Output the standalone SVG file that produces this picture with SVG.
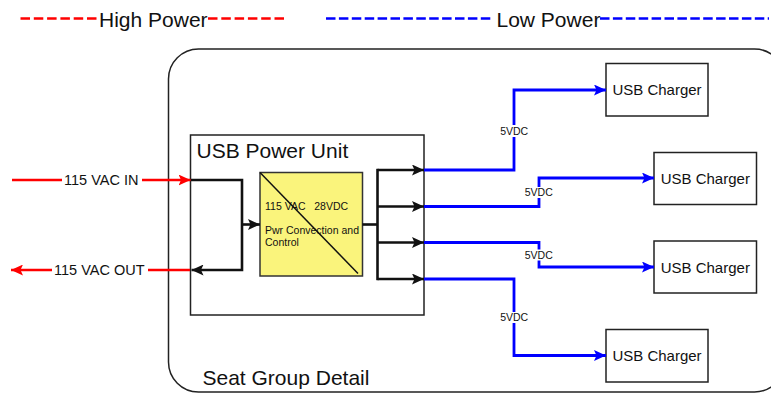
<svg xmlns="http://www.w3.org/2000/svg" width="771" height="394" viewBox="0 0 771 394">
<style>
text{font-family:"Liberation Sans",Arial,sans-serif;fill:#111}
.box{fill:#fff;stroke:#222;stroke-width:1.5}
.blk{fill:none;stroke:#111;stroke-width:2.6}
.red{fill:none;stroke:#f00;stroke-width:2.6}
.blu{fill:none;stroke:#00f;stroke-width:2.8}
.dr{stroke:#f00;stroke-width:2.6;stroke-dasharray:9.5 3.8}
.db{stroke:#00f;stroke-width:2.6;stroke-dasharray:9.5 3.4}
.lbl{font-size:14.5px}
.v5{font-size:10.5px;text-anchor:middle}
.chg{font-size:15px;text-anchor:middle}
</style>
<defs>
<marker id="ab" markerUnits="userSpaceOnUse" markerWidth="12" markerHeight="11" refX="12" refY="5.5" orient="auto"><path d="M0,0 L12,5.5 L0,11 L2.5,5.5 z" fill="#111"/></marker>
<marker id="ar" markerUnits="userSpaceOnUse" markerWidth="12" markerHeight="11" refX="12" refY="5.5" orient="auto"><path d="M0,0 L12,5.5 L0,11 L2.5,5.5 z" fill="#f00"/></marker>
<marker id="au" markerUnits="userSpaceOnUse" markerWidth="12" markerHeight="11" refX="12" refY="5.5" orient="auto"><path d="M0,0 L12,5.5 L0,11 L2.5,5.5 z" fill="#00f"/></marker>
</defs>
<rect width="771" height="394" fill="#fff"/>

<g id="legend">
<line class="dr" x1="20.5" y1="18.5" x2="97" y2="18.5"/>
<text x="99" y="26.5" style="font-size:21px">High Power</text>
<line class="dr" x1="208" y1="18.5" x2="285" y2="18.5"/>
<line class="db" x1="326" y1="18.5" x2="491" y2="18.5"/>
<text x="496.5" y="26.5" style="font-size:21px">Low Power</text>
<line class="db" x1="600" y1="18.5" x2="769" y2="18.5"/>
</g>

<g id="seat-group">
<rect x="168.5" y="49" width="616" height="343" rx="30" fill="none" stroke="#222" stroke-width="1.5"/>
<text x="202.5" y="385" style="font-size:21px">Seat Group Detail</text>
</g>

<g id="usb-power-unit">
<rect class="box" x="190.5" y="135" width="233.5" height="180"/>
<text x="196.5" y="157.5" style="font-size:21px">USB Power Unit</text>
</g>

<g id="converter">
<rect x="260" y="172.5" width="102.5" height="103.5" fill="#faf47c" stroke="#333" stroke-width="1.5"/>
<line x1="260" y1="172.5" x2="358" y2="273.5" stroke="#111" stroke-width="1.5"/>
<text x="265" y="210" style="font-size:10.5px" xml:space="preserve">115 VAC   28VDC</text>
<text x="265" y="234" style="font-size:10.5px">Pwr Convection and</text>
<text x="265" y="246" style="font-size:10.5px">Control</text>
</g>

<g id="charger-1">
<rect class="box" x="606" y="63.5" width="102" height="52.5"/>
<text class="chg" x="657" y="95">USB Charger</text>
</g>
<g id="charger-2">
<rect class="box" x="654" y="152.5" width="102.5" height="52"/>
<text class="chg" x="705.3" y="183.5">USB Charger</text>
</g>
<g id="charger-3">
<rect class="box" x="654" y="241" width="102.5" height="52"/>
<text class="chg" x="705.3" y="272.5">USB Charger</text>
</g>
<g id="charger-4">
<rect class="box" x="606" y="329.5" width="102" height="52.5"/>
<text class="chg" x="657" y="361">USB Charger</text>
</g>

<g id="connectors">
<line class="red" x1="12" y1="180" x2="62" y2="180"/>
<line class="red" x1="142" y1="180" x2="190.5" y2="180" marker-end="url(#ar)"/>
<text class="lbl" x="64" y="185.2">115 VAC IN</text>
<line class="red" x1="190" y1="270" x2="148" y2="270"/>
<line class="red" x1="52" y1="270" x2="11" y2="270" marker-end="url(#ar)"/>
<text class="lbl" x="54" y="275.2">115 VAC OUT</text>

<polyline class="blk" points="191,180 242,180 242,270 191.5,270" marker-end="url(#ab)"/>
<line class="blk" x1="242" y1="224.5" x2="260" y2="224.5" marker-end="url(#ab)"/>
<line class="blk" x1="362.5" y1="224.5" x2="377.5" y2="224.5"/>
<line class="blk" x1="377.5" y1="168.8" x2="377.5" y2="280.2"/>
<line class="blk" x1="377.5" y1="170" x2="424" y2="170" marker-end="url(#ab)"/>
<line class="blk" x1="377.5" y1="206.5" x2="424" y2="206.5" marker-end="url(#ab)"/>
<line class="blk" x1="377.5" y1="242.5" x2="424" y2="242.5" marker-end="url(#ab)"/>
<line class="blk" x1="377.5" y1="279" x2="424" y2="279" marker-end="url(#ab)"/>

<polyline class="blu" points="424,170 514,170 514,90 606,90" marker-end="url(#au)"/>
<polyline class="blu" points="424,206.5 539,206.5 539,178 654,178" marker-end="url(#au)"/>
<polyline class="blu" points="424,242.5 539,242.5 539,267 654,267" marker-end="url(#au)"/>
<polyline class="blu" points="424,279 514,279 514,355.5 606,355.5" marker-end="url(#au)"/>

<rect x="499" y="125" width="30" height="12" fill="#fff"/>
<text class="v5" x="514.2" y="134.6">5VDC</text>
<rect x="523.5" y="187" width="30" height="11" fill="#fff"/>
<text class="v5" x="538.8" y="196.3">5VDC</text>
<rect x="523.5" y="249.5" width="30" height="11" fill="#fff"/>
<text class="v5" x="538.8" y="258.6">5VDC</text>
<rect x="499" y="312" width="30" height="11" fill="#fff"/>
<text class="v5" x="514.2" y="321.3">5VDC</text>
</g>
</svg>
